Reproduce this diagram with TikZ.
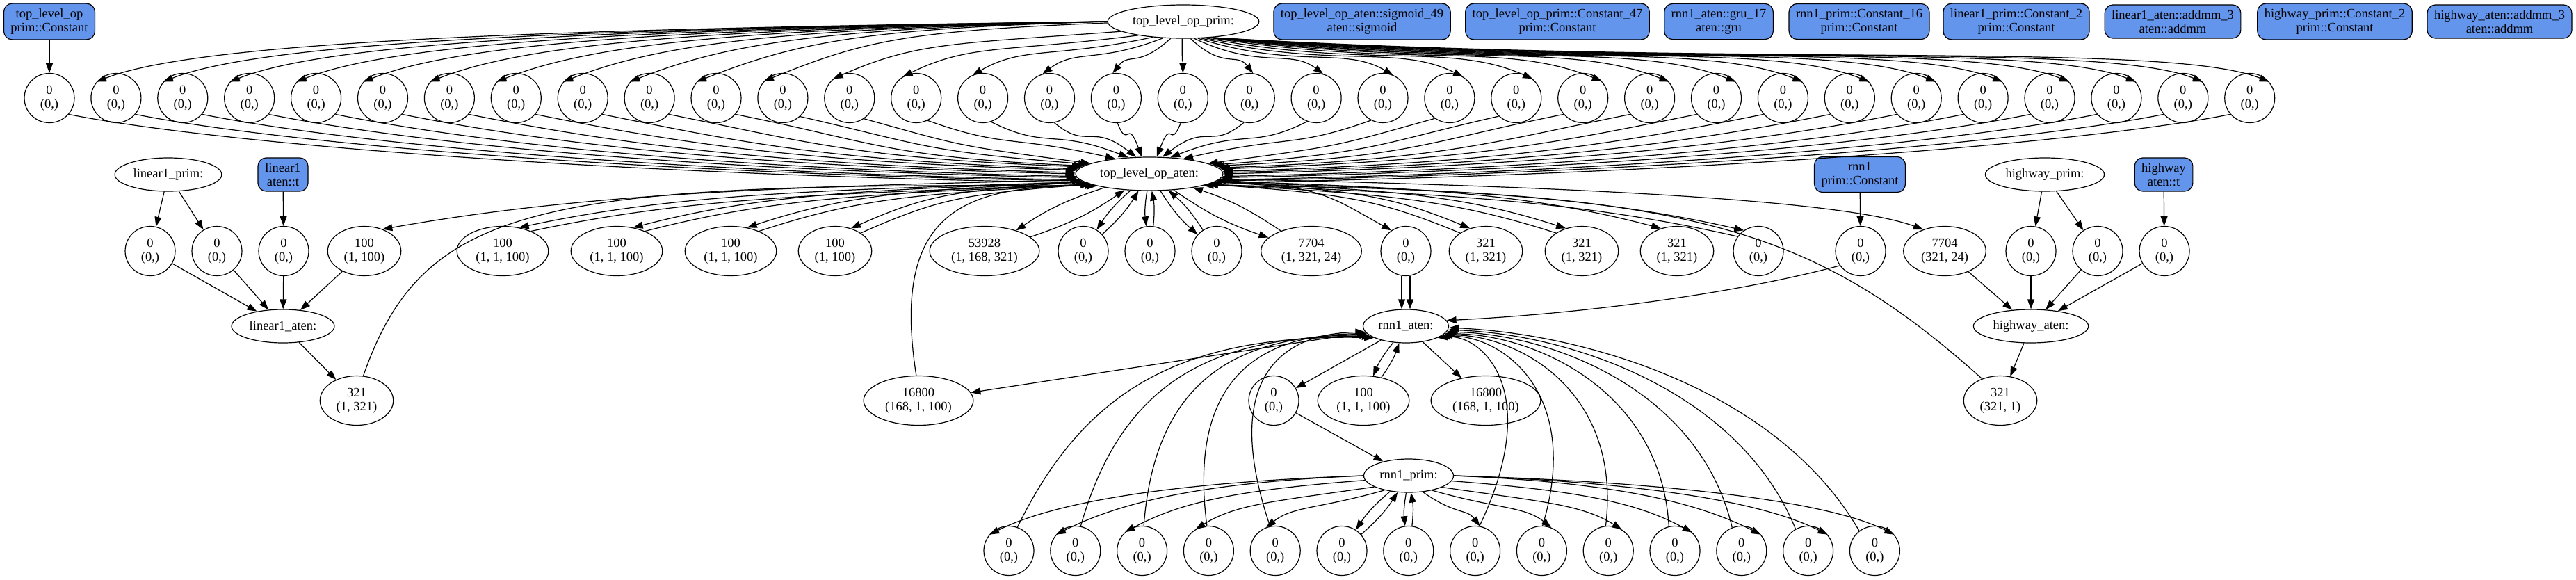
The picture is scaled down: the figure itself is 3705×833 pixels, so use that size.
\documentclass[tikz,border=0pt]{standalone}
\usepackage{fontspec}
\setmainfont{Liberation Serif}
\usetikzlibrary{shapes.geometric,arrows.meta}
\definecolor{OpBlue}{HTML}{6495ED}

% pair of opposite edges between top_level_op_aten and a node on its left / right
\newcommand{\lpair}[2]{%
  \draw[flow] (tla.187) .. controls +({-0.4*#2},12) and +({0.25*#2},-50) .. (#1.55);
  \draw[flow] (#1.35) .. controls +({0.25*#2},-50) and +({-0.4*#2},14) .. (tla.190);}
\newcommand{\rpair}[2]{%
  \draw[flow] (tla.-7) .. controls +({0.4*#2},12) and +({-0.25*#2},-50) .. (#1.125);
  \draw[flow] (#1.145) .. controls +({-0.25*#2},-50) and +({0.4*#2},14) .. (tla.-10);}

\begin{document}
\begin{tikzpicture}[x=1pt,y=-1pt,
  gvfont/.style={font=\fontsize{18.5}{20}\selectfont,align=center,line width=1.2pt},
  opbox/.style={gvfont,draw,fill=OpBlue,rounded corners=12pt,inner xsep=10pt,inner ysep=7.5pt,minimum width=72pt},
  op/.style={gvfont,draw,ellipse,inner xsep=4pt,minimum width=72pt,minimum height=48pt},
  val/.style={gvfont,draw,ellipse,inner xsep=8pt,minimum width=72pt,minimum height=71pt},
  flow/.style={line width=1.2pt,-{Triangle[length=14pt,width=10pt]}},
]
\useasboundingbox (0,0) rectangle (3705,833);

% row 0: sources
\node[opbox] (tlc) at (71,31) {top\_level\_op\\prim::Constant};
\node[op] (tlp) at (1702,31) {top\_level\_op\_prim:};
\node[opbox] (sig) at (1959,31) {top\_level\_op\_aten::sigmoid\_49\\aten::sigmoid};
\node[opbox] (c47) at (2240,31) {top\_level\_op\_prim::Constant\_47\\prim::Constant};
\node[opbox] (gru) at (2472,31) {rnn1\_aten::gru\_17\\aten::gru};
\node[opbox] (c16) at (2674,31) {rnn1\_prim::Constant\_16\\prim::Constant};
\node[opbox] (lc2) at (2900,31) {linear1\_prim::Constant\_2\\prim::Constant};
\node[opbox] (lmm) at (3125,31) {linear1\_aten::addmm\_3\\aten::addmm};
\node[opbox] (hc2) at (3358,31) {highway\_prim::Constant\_2\\prim::Constant};
\node[opbox] (hmm) at (3595,31) {highway\_aten::addmm\_3\\aten::addmm};

% row 1: top level values
\foreach \i in {0,...,33}
  \node[val] (t\i) at ({71+95.9*\i},141) {0\\(0,)};

% row 2
\node[op] (lp) at (242,251) {linear1\_prim:};
\node[opbox] (lt) at (407,251) {linear1\\aten::t};
\node[op] (tla) at (1653,250) {top\_level\_op\_aten:};
\node[opbox] (rc) at (2675,251) {rnn1\\prim::Constant};
\node[op] (hp) at (2941,251) {highway\_prim:};
\node[opbox] (ht) at (3112,251) {highway\\aten::t};

% row 3
\node[val] (l0) at (216,361) {0\\(0,)};
\node[val] (l1) at (312,361) {0\\(0,)};
\node[val] (l2) at (408,361) {0\\(0,)};
\node[val] (w1) at (524,361) {100\\(1, 100)};
\node[val] (h1) at (723,361) {100\\(1, 1, 100)};
\node[val] (h2) at (887,361) {100\\(1, 1, 100)};
\node[val] (h3) at (1051,361) {100\\(1, 1, 100)};
\node[val] (w2) at (1201,361) {100\\(1, 100)};
\node[val] (s1) at (1416,361) {53928\\(1, 168, 321)};
\node[val] (z1) at (1558,361) {0\\(0,)};
\node[val] (z2) at (1654,361) {0\\(0,)};
\node[val] (z3) at (1750,361) {0\\(0,)};
\node[val] (g1) at (1886,361) {7704\\(1, 321, 24)};
\node[val] (z4) at (2022,361) {0\\(0,)};
\node[val] (o1) at (2137,361) {321\\(1, 321)};
\node[val] (o2) at (2275,361) {321\\(1, 321)};
\node[val] (o3) at (2412,361) {321\\(1, 321)};
\node[val] (z5) at (2529,361) {0\\(0,)};
\node[val] (rz) at (2676,361) {0\\(0,)};
\node[val] (g2) at (2797,361) {7704\\(321, 24)};
\node[val] (hz1) at (2921,361) {0\\(0,)};
\node[val] (hz2) at (3017,361) {0\\(0,)};
\node[val] (hz3) at (3113,361) {0\\(0,)};

% row 4
\node[op] (la) at (407,469) {linear1\_aten:};
\node[op] (ra) at (2022,469) {rnn1\_aten:};
\node[op] (ha) at (2921,469) {highway\_aten:};

% row 5
\node[val] (lo) at (513,576) {321\\(1, 321)};
\node[val] (e1) at (1321,576) {16800\\(168, 1, 100)};
\node[val] (rz2) at (1832,576) {0\\(0,)};
\node[val] (rh) at (1961,576) {100\\(1, 1, 100)};
\node[val] (e2) at (2137,576) {16800\\(168, 1, 100)};
\node[val] (ho) at (2877,576) {321\\(321, 1)};

% rows 6-7: rnn1 prim
\node[op] (rp) at (2026,684) {rnn1\_prim:};
\foreach \i in {0,...,13}
  \node[val] (b\i) at ({1451+95.8*\i},792) {0\\(0,)};

% top level fan out / fan in
\draw[flow] (tlc) -- (t0);
\foreach \i in {1,...,33}{
  \pgfmathsetmacro\dX{71+95.9*\i-1702}
  \pgfmathsetmacro\fT{min(1,abs(\dX)/600)}
  \pgfmathsetmacro\sG{ifthenelse(\dX<0,-1,1)}
  \pgfmathtruncatemacro\aS{ifthenelse(\dX<0,270-90*sqrt(\fT),270+60*sqrt(\fT))}
  \pgfmathsetmacro\dY{ifthenelse(\dX<0,10+40*(1-\fT),45)}
  \pgfmathtruncatemacro\aE{90-\sG*50*\fT}
  \draw[flow] (tlp.\aS) .. controls +({0.5*\dX},\dY) and +({-\sG*150*\fT},{-25-35*\fT}) .. (t\i.\aE);
}
\foreach \i in {0,...,33}{
  \pgfmathsetmacro\dX{1653-71-95.9*\i}
  \pgfmathsetmacro\fT{min(1,abs(\dX)/600)}
  \pgfmathsetmacro\sG{ifthenelse(\dX<0,-1,1)}
  \pgfmathtruncatemacro\aS{270+\sG*50*\fT}
  \pgfmathtruncatemacro\jJ{ifthenelse(\i<17,\i,33-\i)}
  \pgfmathsetmacro\aB{ifthenelse(\jJ>12,10+14*(\jJ-12),-8+1.5*\jJ)}
  \pgfmathtruncatemacro\aE{ifthenelse(\i<17,180-\aB,\aB)}
  \draw[flow] (t\i.\aS) .. controls +({\sG*200*\fT},40) and +({-0.45*\dX},{-12-50*(1-\fT)}) .. (tla.\aE);
}

% linear1
\draw[flow] (lp) -- (l0);
\draw[flow] (lp) -- (l1);
\draw[flow] (lt) -- (l2);
\foreach \n in {l0,l1,l2,w1}
  \draw[flow] (\n) -- (la);
\draw[flow] (la) -- (lo);
\draw[flow] (lo.75) .. controls (610,290) and (780,262) .. (tla.193);

% top_level_op_aten to its values
\draw[flow] (tla.185) .. controls +(-450,10) and +(280,-50) .. (w1.50);
\lpair{h1}{930}
\lpair{h2}{766}
\lpair{h3}{602}
\lpair{w2}{452}
\foreach \n in {s1,z1,z2,z3,g1}{
  \draw[flow] (tla) to[bend right=8] (\n);
  \draw[flow] (\n) to[bend right=8] (tla);
}
\draw[flow] (tla.-5) .. controls +(150,10) and +(-90,-50) .. (z4.125);
\rpair{o1}{484}
\rpair{o2}{622}
\draw[flow] (tla.-6) .. controls +(300,10) and +(-190,-50) .. (o3.125);
\rpair{z5}{876}
\draw[flow] (tla.-4) .. controls +(460,10) and +(-120,-45) .. (g2.135);
\draw[flow] (e1.95) .. controls (1280,300) and (1390,268) .. (tla.192);
\draw[flow] (ho.130) .. controls (2600,320) and (2420,272) .. (tla.-12);

% rnn1
\draw[flow] (rc) -- (rz);
\draw[flow] (rz.215) .. controls +(-150,40) and +(200,-10) .. (ra.8);
\draw[flow] ([xshift=-6pt]z4.south) -- ([xshift=-6pt]ra.north);
\draw[flow] ([xshift=6pt]z4.south) -- ([xshift=6pt]ra.north);
\draw[flow] (ra) -- (e1);
\draw[flow] (ra) -- (rz2);
\draw[flow] (ra) to[bend right=8] (rh);
\draw[flow] (rh) to[bend right=8] (ra);
\draw[flow] (ra) -- (e2);
\draw[flow] (rz2) -- (rp);
\foreach \i in {0,1,2,3,4,7,8,9,10,11,12,13}{
  \pgfmathsetmacro\dX{1451+95.8*\i-2026}
  \pgfmathsetmacro\fT{min(1,abs(\dX)/450)}
  \pgfmathsetmacro\sG{ifthenelse(\dX<0,-1,1)}
  \pgfmathtruncatemacro\aS{270+\sG*90*sqrt(\fT)}
  \pgfmathtruncatemacro\aE{90-\sG*50*\fT}
  \draw[flow] (rp.\aS) .. controls +({0.5*\dX},{10+30*(1-\fT)}) and +({-\sG*90*\fT},{-20-25*\fT}) .. (b\i.\aE);
}
\foreach \n in {b5,b6}{
  \draw[flow] (rp) to[bend right=8] (\n);
  \draw[flow] (\n) to[bend right=8] (rp);
}
\foreach \i in {0,...,4}{
  \pgfmathtruncatemacro\aS{70+8*\i}
  \pgfmathtruncatemacro\aE{200-3*\i}
  \draw[flow] (b\i.\aS) .. controls ({1560+50*\i},560) and ({1700+32*\i},480) .. (ra.\aE);
}
\foreach \i in {7,...,13}{
  \pgfmathtruncatemacro\aS{80+8*(\i-7)}
  \pgfmathtruncatemacro\aE{-20+3*(\i-7)}
  \draw[flow] (b\i.\aS) .. controls ({1451+95.8*\i+100-40*(\i-7)},560) and ({2130+25*(\i-7)},480) .. (ra.\aE);
}

% highway
\draw[flow] (hp) -- (hz1);
\draw[flow] (hp) -- (hz2);
\draw[flow] (ht) -- (hz3);
\foreach \n in {g2,hz1,hz2,hz3}
  \draw[flow] (\n) -- (ha);
\draw[flow] (ha) -- (ho);
\end{tikzpicture}
\end{document}
